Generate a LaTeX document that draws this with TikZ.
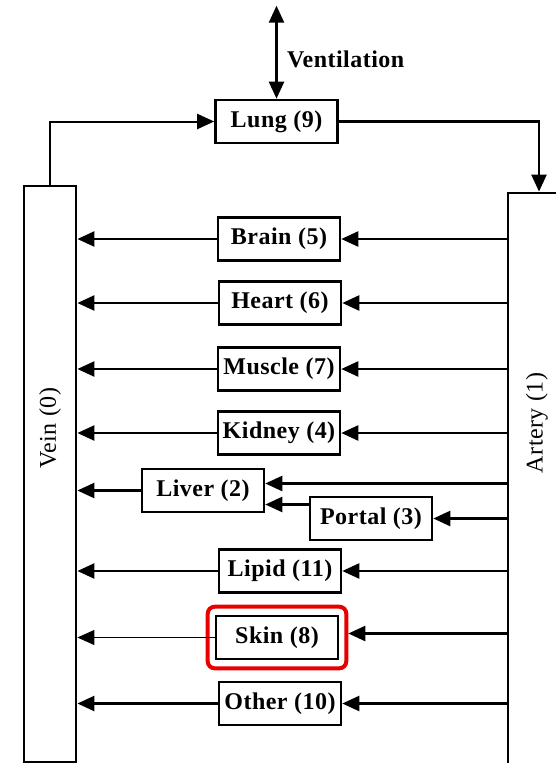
\documentclass[tikz,border=0pt]{standalone}
\usepackage{fontspec}
\setmainfont{Liberation Serif}[LetterSpace=2]
\usetikzlibrary{arrows.meta,positioning,fit}
\definecolor{skinred}{RGB}{232,0,0}

\begin{document}
\begin{tikzpicture}[x=1pt,y=-1pt,
    organ/.style={draw, line width=2.6pt, minimum width=122pt, minimum height=43pt,
      inner sep=0pt, font=\fontsize{24}{26}\selectfont\bfseries},
    pool/.style={draw, line width=2.8pt, inner sep=0pt},
    poollabel/.style={rotate=90, font=\fontsize{24}{26}\selectfont},
    flow/.style={line width=2.4pt, -{Triangle[length=17pt,width=15pt]}},
    thinflow/.style={line width=1pt, -{Triangle[length=17pt,width=15pt]}}]
    \useasboundingbox (0,0) rectangle (556,763);

    % Blood pools
    \node[pool, minimum width=52pt, minimum height=576pt] (vein) at (50,474) {};
    \node[poollabel] (veinlab) at ([yshift=46pt]vein.center) {Vein (0)};
    \node[pool, minimum width=62pt, minimum height=600pt] (artery) at (539,493) {};
    \node[poollabel] (artlab) at ([yshift=70pt,xshift=-2pt]artery.center) {Artery (1)};

    % Organs
    \node[organ] (lung) at (276.5,121.5) {Lung (9)};
    \node[organ] (brain) at (279,239) {Brain (5)};
    \node[organ] (heart) at (280,303) {Heart (6)};
    \node[organ] (muscle) at (279,369) {Muscle (7)};
    \node[organ] (kidney) at (279,433) {Kidney (4)};
    \node[organ] (liver) at (203,490.5) {Liver (2)};
    \node[organ] (portal) at (371,518.5) {Portal (3)};
    \node[organ] (lipid) at (280,571) {Lipid (11)};
    \node[organ] (skin) at (277,637.5) {Skin (8)};
    \node[organ] (other) at (280,703.5) {Other (10)};

    % Highlight on skin
    \node[draw=skinred, line width=4pt, rounded corners=7pt, inner xsep=7pt,
      inner ysep=8pt, fit=(skin)] (skinmark) {};

    % Ventilation
    \coordinate[above=93pt of lung.north] (air);
    \draw[line width=2.4pt, {Triangle[length=17pt,width=15pt]}-{Triangle[length=17pt,width=15pt]}]
      (air) -- (lung.north) node[pos=0.58, right=6pt, font=\fontsize{24}{26}\selectfont\bfseries] (vent) {Ventilation};

    % Lung loop
    \draw[flow, line width=2pt] (vein.north) |- (lung.west);
    \draw[flow] (lung.east) -| (artery.north);

    % Artery to organs
    \draw[flow] (brain.east -| artery.west) -- (brain.east);
    \draw[flow] (heart.east -| artery.west) -- (heart.east);
    \draw[flow] (muscle.east -| artery.west) -- (muscle.east);
    \draw[flow] (kidney.east -| artery.west) -- (kidney.east);
    \draw[flow] ([yshift=7pt]liver.east -| artery.west) -- ([yshift=7pt]liver.east);
    \draw[flow] (portal.east -| artery.west) -- (portal.east);
    \draw[flow] ([yshift=-14pt]liver.east -| portal.west) -- ([yshift=-14pt]liver.east);
    \draw[flow] (lipid.east -| artery.west) -- (lipid.east);
    \draw[flow] ([yshift=4pt]skinmark.east -| artery.west) -- ([yshift=4pt]skinmark.east);
    \draw[flow] (other.east -| artery.west) -- (other.east);

    % Organs to vein
    \draw[flow] (brain.west) -- (brain.west -| vein.east);
    \draw[flow] (heart.west) -- (heart.west -| vein.east);
    \draw[flow] (muscle.west) -- (muscle.west -| vein.east);
    \draw[flow] (kidney.west) -- (kidney.west -| vein.east);
    \draw[flow] (liver.west) -- (liver.west -| vein.east);
    \draw[flow] (lipid.west) -- (lipid.west -| vein.east);
    \draw[thinflow] (skin.west) -- (skin.west -| vein.east);
    \draw[flow] (other.west) -- (other.west -| vein.east);
\end{tikzpicture}
\end{document}
